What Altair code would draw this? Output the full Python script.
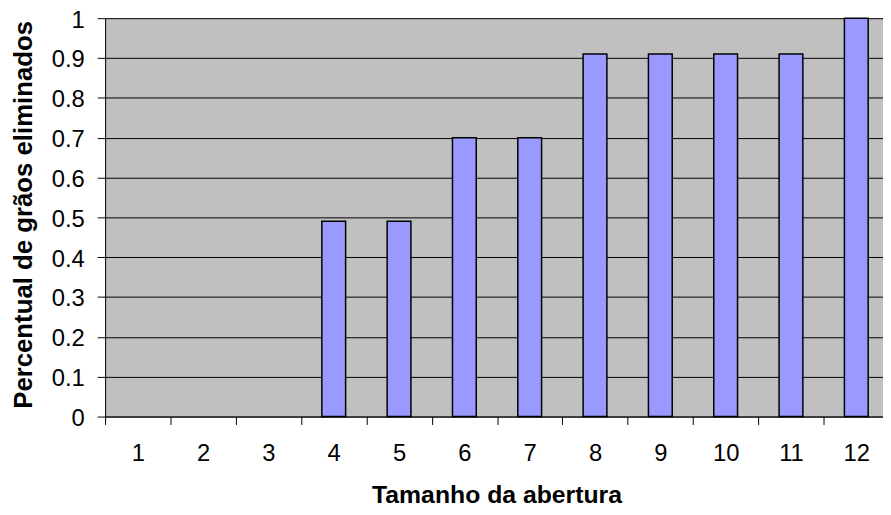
import altair as alt
import pandas as pd

categories = ["1", "2", "3", "4", "5", "6", "7", "8", "9", "10", "11", "12"]
values = [0, 0, 0, 0.49, 0.49, 0.70, 0.70, 0.91, 0.91, 0.91, 0.91, 1.0]
y_ticks = [0, 0.1, 0.2, 0.3, 0.4, 0.5, 0.6, 0.7, 0.8, 0.9, 1.0]

df = pd.DataFrame({"abertura": categories, "percentual": values})

FONT = "Liberation Sans"

chart = (
    alt.Chart(df)
    .transform_filter("datum.percentual > 0")
    .mark_bar(size=24, fill="#9999FF", stroke="black", strokeWidth=1.5)
    .encode(
        x=alt.X(
            "abertura:N",
            sort=categories,
            scale=alt.Scale(domain=categories, range=[0, 791], paddingInner=0, paddingOuter=0),
            axis=alt.Axis(
                title="Tamanho da abertura",
                labelAngle=0,
                tickBand="extent",
                tickSize=8,
                tickColor="black",
                domainColor="black",
                labelPadding=17,
                labelFontSize=24,
                labelFont=FONT,
                labelColor="black",
                titleFont=FONT,
                titleFontSize=25,
                titleFontWeight="bold",
                titleColor="black",
                titleX=395,
                titleY=87,
                titleAlign="center",
                titleBaseline="alphabetic",
                grid=False,
            ),
        ),
        y=alt.Y(
            "percentual:Q",
            scale=alt.Scale(domain=[0, 1], nice=False),
            axis=alt.Axis(
                title="Percentual de grãos eliminados",
                values=y_ticks,
                format="~g",
                tickSize=8,
                tickColor="black",
                domainColor="black",
                labelPadding=13,
                labelOffset=2,
                labelFontSize=24,
                labelFont=FONT,
                labelColor="black",
                titleFont=FONT,
                titleFontSize=26,
                titleFontWeight="bold",
                titleColor="black",
                titleAngle=-90,
                titleX=-74,
                titleY=198,
                titleAlign="center",
                titleBaseline="alphabetic",
                grid=True,
                gridColor="black",
                gridWidth=1,
                gridOpacity=1,
            ),
        ),
    )
    .properties(
        width=785,
        height=402,
        autosize=alt.AutoSizeParams(type="none"),
        padding={"left": 98, "top": 8, "right": 0, "bottom": 88},
        background="white",
    )
    .configure_view(fill="#C0C0C0", strokeWidth=0)
)

chart.save("out.html", embed_options={"renderer": "svg", "actions": False})
